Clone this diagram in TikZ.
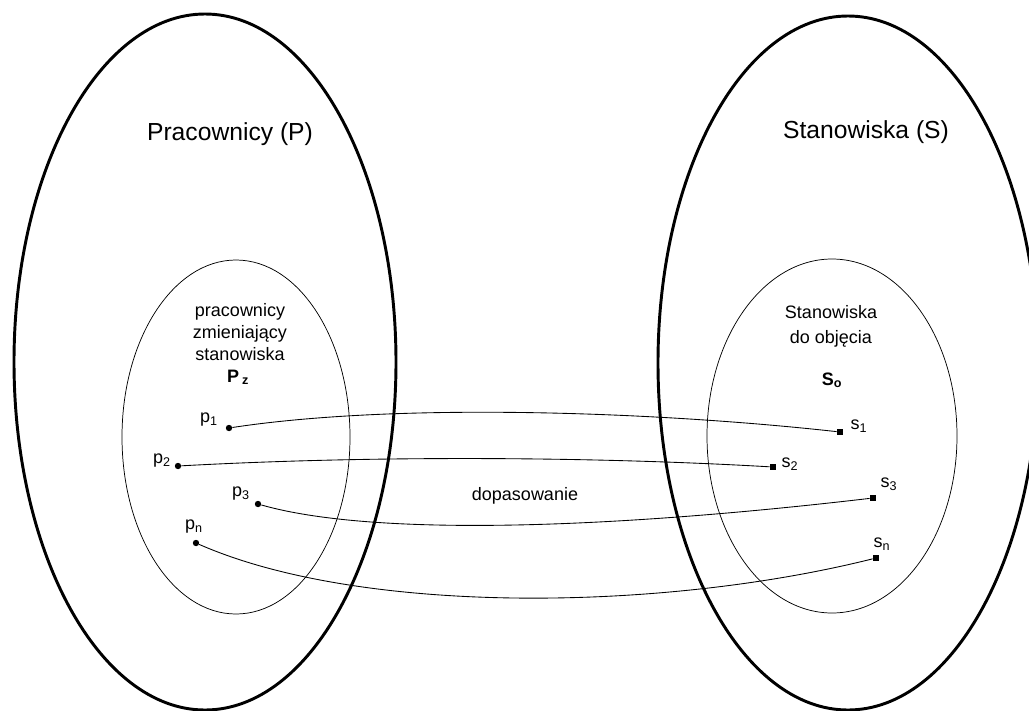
\documentclass[tikz,border=0pt]{standalone}
\usepackage{fontspec}
\setmainfont{Liberation Sans}
\begin{document}
\begin{tikzpicture}[x=0.75pt,y=-0.75pt,
  outer/.style={line width=2.2pt},
  inner/.style={line width=0.55pt},
  link/.style={line width=0.65pt},
  pdot/.style={circle,fill,inner sep=0pt,minimum size=4.8pt},
  sdot/.style={rectangle,fill,inner sep=0pt,minimum size=4.8pt},
  title/.style={font=\fontsize{18.5}{22}\selectfont},
  body/.style={font=\fontsize{13.5}{16}\selectfont,anchor=base},
  lbl/.style={font=\fontsize{13.5}{16}\selectfont}]
\useasboundingbox (0,0) rectangle (1029,711);

% the two sets
\draw[outer] (205,362) ellipse [x radius=191, y radius=348];
\draw[outer] (848,363) ellipse [x radius=190, y radius=347];
% the subsets
\draw[inner] (236,437) ellipse [x radius=114, y radius=177];
\draw[inner] (832,436) ellipse [x radius=125, y radius=177];

% set titles
\node[title] (tP) at (230,134) {Pracownicy (P)};
\node[title] (tS) at (866,132) {Stanowiska (S)};

% subset captions
\node[body] (pz1) at (240,316) {pracownicy};
\node[body] (pz2) at (240,338) {zmieniający};
\node[body] (pz3) at (240,360) {stanowiska};
\node[body] (pz4) at (238,382) {\textbf{P\,\textsubscript{z}}};
\node[body] (so1) at (831,318) {Stanowiska};
\node[body] (so2) at (831,343) {do objęcia};
\node[body] (so3) at (832,385) {\textbf{S\textsubscript{o}}};

% workers
\node[pdot] (p1) at (229,428) {};
\node[pdot] (p2) at (178,466) {};
\node[pdot] (p3) at (258,504) {};
\node[pdot] (pn) at (196,543) {};
\node[lbl] (lp1) at (209,420) {p\textsubscript{1}};
\node[lbl] (lp2) at (162,461) {p\textsubscript{2}};
\node[lbl] (lp3) at (241,494) {p\textsubscript{3}};
\node[lbl] (lpn) at (194,527) {p\textsubscript{n}};

% positions
\node[sdot] (s1) at (840,432) {};
\node[sdot] (s2) at (773,467) {};
\node[sdot] (s3) at (873,498) {};
\node[sdot] (sn) at (876,558) {};
\node[lbl] (ls1) at (859,426) {s\textsubscript{1}};
\node[lbl] (ls2) at (790,464) {s\textsubscript{2}};
\node[lbl] (ls3) at (889,484) {s\textsubscript{3}};
\node[lbl] (lsn) at (882,544) {s\textsubscript{n}};

% the matching
\draw[link] (p1) .. controls (400,402) and (660,412) .. (s1);
\draw[link] (p2) .. controls (380,455) and (600,457) .. (s2);
\draw[link] (p3) .. controls (370,536) and (600,530) .. (s3);
\draw[link] (pn) .. controls (360,615) and (660,612) .. (sn);

\node[body] (dop) at (525,500) {dopasowanie};
\end{tikzpicture}
\end{document}
